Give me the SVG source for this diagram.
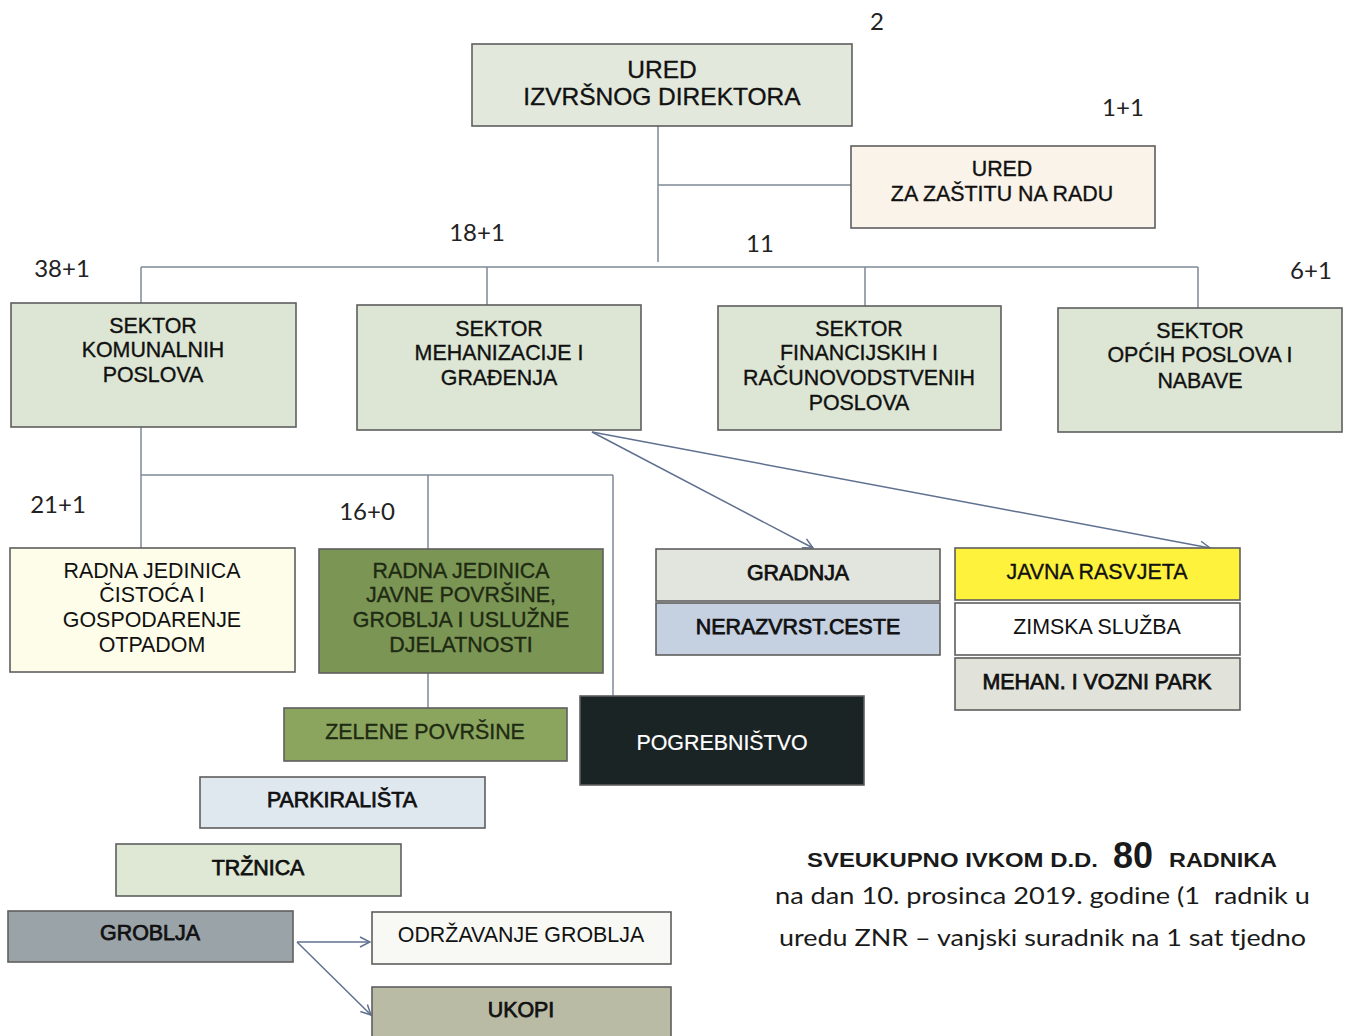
<svg xmlns="http://www.w3.org/2000/svg" width="1349" height="1036" viewBox="0 0 1349 1036">
<style>
.box{stroke:#5e5e5e;stroke-width:1.6}
.t{font-family:"Liberation Sans",Arial,sans-serif;font-size:21.4px;text-anchor:middle;dominant-baseline:central;fill:#111;stroke:#111;stroke-width:0.35}
.hv{stroke-width:0.75}
.dk{fill:#1e2a12;stroke:#1e2a12}
.wt{fill:#ffffff;stroke:#ffffff;stroke-width:0.2}
.n{font-family:Lato,"Open Sans",sans-serif;font-size:24px;text-anchor:middle;dominant-baseline:central;fill:#222}
.c{fill:none;stroke:#7f8a98;stroke-width:1.5}
.a{fill:none;stroke:#5f7090;stroke-width:1.5}
.s{font-family:"Liberation Sans",Arial,sans-serif;font-weight:bold;fill:#1a1a1a}
.p{font-family:Lato,"Open Sans",sans-serif;font-size:24px;fill:#1a1a1a}
</style>
<defs>
<marker id="arr" viewBox="0 0 12 12" refX="11" refY="6" markerWidth="12" markerHeight="12" markerUnits="userSpaceOnUse" orient="auto">
<path d="M1,1 L11,6 L1,11" fill="none" stroke="#5f7090" stroke-width="1.5"/>
</marker>
</defs>
<rect width="1349" height="1036" fill="#ffffff"/>
<g id="connectors">
<path class="c" d="M658,126 V262 M658,185 H851"/>
<path class="c" d="M141,267 H1198 M141,267 V303 M487,267 V305 M865,267 V306 M1198,267 V308"/>
<path class="c" d="M141,427 V548 M141,475 H613 M428,475 V549 M613,475 V696 M428,673 V708"/>
<path class="a" d="M592,432 L813,548" marker-end="url(#arr)"/>
<path class="a" d="M592,432 L1210,548" marker-end="url(#arr)"/>
<path class="a" d="M297,942 L370,942" marker-end="url(#arr)"/>
<path class="a" d="M297,942 L371,1015" marker-end="url(#arr)"/>
</g>
<g id="labels">
<text class="n" x="877" y="20">2</text>
<text class="n" x="1123" y="106">1+1</text>
<text class="n" x="477" y="231">18+1</text>
<text class="n" x="760" y="242">11</text>
<text class="n" x="62" y="267">38+1</text>
<text class="n" x="1311" y="269">6+1</text>
<text class="n" x="58" y="503">21+1</text>
<text class="n" x="367" y="510">16+0</text>
</g>
<g id="ured-izvrsnog">
<rect class="box" x="472" y="44" width="380" height="82" fill="#e3e8dc"/>
<text class="t" x="662" y="69" style="font-size:24.5px">URED</text>
<text class="t" x="662" y="96" style="font-size:24.5px">IZVRŠNOG DIREKTORA</text>
</g>
<g id="ured-znr">
<rect class="box" x="851" y="146" width="304" height="82" fill="#f9f3ea"/>
<text class="t" x="1002" y="169">URED</text>
<text class="t" x="1002" y="194">ZA ZAŠTITU NA RADU</text>
</g>
<g id="sektor-komunalnih">
<rect class="box" x="11" y="303" width="285" height="124" fill="#dde6d4"/>
<text class="t" x="153" y="326">SEKTOR</text>
<text class="t" x="153" y="350">KOMUNALNIH</text>
<text class="t" x="153" y="375">POSLOVA</text>
</g>
<g id="sektor-mehanizacije">
<rect class="box" x="357" y="305" width="284" height="125" fill="#dde6d4"/>
<text class="t" x="499" y="329">SEKTOR</text>
<text class="t" x="499" y="353">MEHANIZACIJE I</text>
<text class="t" x="499" y="378">GRAĐENJA</text>
</g>
<g id="sektor-financijskih">
<rect class="box" x="718" y="306" width="283" height="124" fill="#dde6d4"/>
<text class="t" x="859" y="329">SEKTOR</text>
<text class="t" x="859" y="353">FINANCIJSKIH I</text>
<text class="t" x="859" y="378">RAČUNOVODSTVENIH</text>
<text class="t" x="859" y="403">POSLOVA</text>
</g>
<g id="sektor-opcih">
<rect class="box" x="1058" y="308" width="284" height="124" fill="#dde6d4"/>
<text class="t" x="1200" y="331">SEKTOR</text>
<text class="t" x="1200" y="355">OPĆIH POSLOVA I</text>
<text class="t" x="1200" y="381">NABAVE</text>
</g>
<g id="rj-cistoca">
<rect class="box" x="10" y="548" width="285" height="124" fill="#fdfde9"/>
<text class="t" x="152" y="571" style="stroke-width:0">RADNA JEDINICA</text>
<text class="t" x="152" y="595" style="stroke-width:0">ČISTOĆA I</text>
<text class="t" x="152" y="620" style="stroke-width:0">GOSPODARENJE</text>
<text class="t" x="152" y="645" style="stroke-width:0">OTPADOM</text>
</g>
<g id="rj-javne">
<rect class="box" x="319" y="549" width="284" height="124" fill="#7b9555"/>
<text class="t dk" x="461" y="571">RADNA JEDINICA</text>
<text class="t dk" x="461" y="595">JAVNE POVRŠINE,</text>
<text class="t dk" x="461" y="620">GROBLJA I USLUŽNE</text>
<text class="t dk" x="461" y="645">DJELATNOSTI</text>
</g>
<g id="gradnja">
<rect class="box" x="656" y="549" width="284" height="52" fill="#e2e5dd"/>
<text class="t hv" x="798" y="573">GRADNJA</text>
</g>
<g id="nerazvrst">
<rect class="box" x="656" y="603" width="284" height="52" fill="#c5d0e0"/>
<text class="t hv" x="798" y="627">NERAZVRST.CESTE</text>
</g>
<g id="javna-rasvjeta">
<rect class="box" x="955" y="548" width="285" height="52" fill="#fff23c"/>
<text class="t" x="1097" y="572">JAVNA RASVJETA</text>
</g>
<g id="zimska">
<rect class="box" x="955" y="603" width="285" height="52" fill="#ffffff"/>
<text class="t" x="1097" y="627" style="stroke-width:0">ZIMSKA SLUŽBA</text>
</g>
<g id="mehan">
<rect class="box" x="955" y="658" width="285" height="52" fill="#e1e3db"/>
<text class="t hv" x="1097" y="682">MEHAN. I VOZNI PARK</text>
</g>
<g id="zelene">
<rect class="box" x="284" y="708" width="283" height="53" fill="#8ba55f"/>
<text class="t dk" x="425" y="732">ZELENE POVRŠINE</text>
</g>
<g id="pogrebnistvo">
<rect class="box" x="580" y="696" width="284" height="89" fill="#1b2425"/>
<text class="t wt" x="722" y="743">POGREBNIŠTVO</text>
</g>
<g id="parkiralista">
<rect class="box" x="200" y="777" width="285" height="51" fill="#dfe7ef"/>
<text class="t hv" x="342" y="800">PARKIRALIŠTA</text>
</g>
<g id="trznica">
<rect class="box" x="116" y="844" width="285" height="52" fill="#dfe8d4"/>
<text class="t hv" x="258" y="868">TRŽNICA</text>
</g>
<g id="groblja">
<rect class="box" x="8" y="911" width="285" height="51" fill="#9aa3a8"/>
<text class="t hv" x="150" y="933">GROBLJA</text>
</g>
<g id="odrzavanje">
<rect class="box" x="372" y="912" width="299" height="52" fill="#f8f9f5"/>
<text class="t" x="521" y="935" style="stroke-width:0">ODRŽAVANJE GROBLJA</text>
</g>
<g id="ukopi">
<rect class="box" x="372" y="987" width="299" height="55" fill="#babba5"/>
<text class="t hv" x="521" y="1010">UKOPI</text>
</g>
<g id="summary">
<text class="s" x="807" y="867" font-size="21" textLength="291" lengthAdjust="spacingAndGlyphs">SVEUKUPNO IVKOM D.D.</text>
<text class="s" x="1113" y="868" font-size="36" textLength="40" lengthAdjust="spacingAndGlyphs">80</text>
<text class="s" x="1169" y="867" font-size="21" textLength="108" lengthAdjust="spacingAndGlyphs">RADNIKA</text>
<text class="p" x="775" y="904" textLength="535" lengthAdjust="spacingAndGlyphs" xml:space="preserve">na dan 10. prosinca 2019. godine (1  radnik u</text>
<text class="p" x="779" y="946" textLength="527" lengthAdjust="spacingAndGlyphs">uredu ZNR – vanjski suradnik na 1 sat tjedno</text>
</g>
</svg>
